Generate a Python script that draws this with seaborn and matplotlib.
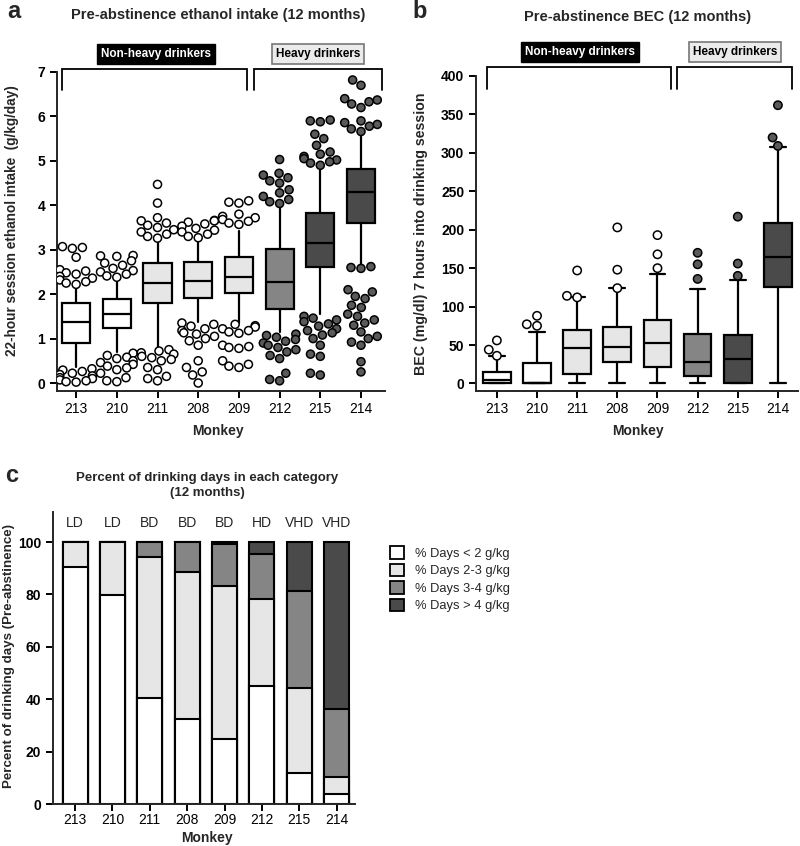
import warnings
import pandas as pd
import matplotlib.pyplot as plt
import seaborn as sns
from matplotlib.patches import Patch

warnings.filterwarnings('ignore')

# ---- data ----
monkeys = ['213', '210', '211', '208', '209', '212', '215', '214']
drinker_class = ['LD', 'LD', 'BD', 'BD', 'BD', 'HD', 'VHD', 'VHD']

# panel a: 22-hour session ethanol intake (g/kg/day), box summary
etoh_q1 = [0.89, 1.23, 1.79, 1.91, 2.02, 1.66, 2.60, 3.61]
etoh_med = [1.38, 1.55, 2.24, 2.30, 2.39, 2.28, 3.14, 4.29]
etoh_q3 = [1.79, 1.89, 2.69, 2.73, 2.84, 3.02, 3.82, 4.82]
etoh_lo = [0.35, 0.70, 0.80, 1.38, 1.35, 1.15, 1.55, 2.65]
etoh_hi = [2.17, 2.33, 3.20, 3.25, 3.42, 4.00, 4.87, 5.65]

# panel a: outlier days per monkey
out_213 = [3.07, 3.05, 3.03, 2.83, 2.55, 2.52, 2.48, 2.45, 2.4, 2.36, 2.32, 2.28, 2.25, 2.22,
           0.32, 0.29, 0.26, 0.22, 0.19, 0.16, 0.12, 0.1, 0.07, 0.05, 0.03, 0.02]
out_210 = [2.87, 2.86, 2.85, 2.75, 2.7, 2.65, 2.58, 2.53, 2.5, 2.45, 2.41, 2.38,
           0.67, 0.62, 0.58, 0.55, 0.5, 0.46, 0.42, 0.38, 0.34, 0.3, 0.22, 0.12, 0.05, 0.03]
out_211 = [4.47, 4.05, 3.72, 3.65, 3.6, 3.55, 3.5, 3.45, 3.4, 3.35, 3.3, 3.26,
           0.75, 0.72, 0.68, 0.65, 0.6, 0.57, 0.53, 0.5, 0.35, 0.3, 0.15, 0.1, 0.05]
out_208 = [3.66, 3.65, 3.62, 3.58, 3.53, 3.48, 3.44, 3.4, 3.35, 3.3, 3.27,
           1.35, 1.32, 1.28, 1.22, 1.18, 1.13, 1.1, 1.05, 1.0, 0.95, 0.85, 0.5, 0.35, 0.25, 0.18, 0.0]
out_209 = [4.1, 4.07, 4.05, 3.8, 3.75, 3.72, 3.68, 3.64, 3.6, 3.57,
           1.32, 1.29, 1.26, 1.22, 1.18, 1.15, 1.12, 0.85, 0.82, 0.8, 0.78, 0.5, 0.42, 0.38, 0.35]
out_212 = [5.03, 4.72, 4.68, 4.62, 4.55, 4.5, 4.35, 4.28, 4.2, 4.13, 4.08, 4.04,
           1.1, 1.07, 1.03, 0.98, 0.94, 0.9, 0.85, 0.8, 0.75, 0.7, 0.62, 0.55, 0.22, 0.08, 0.05]
out_215 = [5.92, 5.9, 5.88, 5.6, 5.5, 5.35, 5.2, 5.15, 5.1, 5.05, 5.02, 4.98, 4.95, 4.9,
           1.5, 1.46, 1.42, 1.38, 1.33, 1.28, 1.22, 1.18, 1.13, 1.08, 1.0, 0.85, 0.65, 0.6, 0.22, 0.18]
out_214 = [6.82, 6.7, 6.4, 6.37, 6.33, 6.28, 6.2, 5.9, 5.86, 5.82, 5.78, 5.72, 5.66,
           2.62, 2.6, 2.58, 2.1, 2.05, 1.95, 1.9, 1.75, 1.7, 1.55, 1.5, 1.42, 1.35, 1.3,
           1.15, 1.05, 1.0, 0.92, 0.85, 0.48, 0.25]

# panel b: BEC (mg/dl) 7 h into session, box summary
bec_q1 = [0, 0, 12, 28, 21, 10, 0, 126]
bec_med = [4, 0, 46, 47, 53, 28, 32, 164]
bec_q3 = [15, 26, 70, 74, 82, 64, 63, 209]
bec_lo = [0, 0, 0, 0, 0, 0, 0, 0]
bec_hi = [36, 67, 113, 124, 143, 123, 135, 307]
bec_out1 = [56, 88, 147, 203, 193, 170, 217, 362]
bec_out2 = [44, 77, 114, 148, 168, 155, 156, 320]
bec_out3 = [36, 75, 112, 124, 150, 136, 140, 309]

# panel c: percent of drinking days per category
pct_lt2 = [90.6, 79.8, 40.3, 32.4, 24.7, 45.0, 11.9, 3.8]
pct_2to3 = [9.4, 20.2, 54.1, 56.0, 58.6, 33.2, 32.5, 6.6]
pct_3to4 = [0.0, 0.0, 5.6, 11.6, 16.0, 17.1, 36.9, 25.7]
pct_gt4 = [0.0, 0.0, 0.0, 0.0, 0.7, 4.7, 18.7, 63.9]
cat_labels = ['% Days < 2 g/kg', '% Days 2-3 g/kg', '% Days 3-4 g/kg', '% Days > 4 g/kg']

# ---- style ----
sns.set_style('ticks')
plt.rcParams['font.family'] = ['Liberation Sans', 'DejaVu Sans']
plt.rcParams['axes.linewidth'] = 1.4

WHITE, LIGHT, MID, DARK = '#ffffff', '#e6e6e6', '#858585', '#4a4a4a'
box_face = [WHITE, WHITE, LIGHT, LIGHT, LIGHT, MID, DARK, DARK]
out_face = [WHITE] * 5 + ['#5a5a5a'] * 3

W, H = 800, 846
fig = plt.figure(figsize=(8, 8.46), dpi=100)


def fx(px):
    return px / W


def fy(py):
    return 1 - py / H


def add_axes(l, t, r, b):
    return fig.add_axes([fx(l), fy(b), fx(r) - fx(l), (b - t) / H])


def style_axes(ax, xpad=3.0):
    sns.despine(ax=ax)
    ax.tick_params(axis='both', direction='out', length=5, width=1.4, colors='black', labelsize=10)
    ax.tick_params(axis='x', pad=xpad)
    for lab in ax.get_yticklabels():
        lab.set_fontweight('bold')
    ax.set_xlabel('')
    ax.set_ylabel('')


def boxes(ax, q1, med, q3, lo, hi, caps):
    stats = [dict(q1=a, med=m, q3=b, whislo=l, whishi=h, fliers=[])
             for a, m, b, l, h in zip(q1, med, q3, lo, hi)]
    bp = ax.bxp(stats, positions=range(len(stats)), widths=0.69, patch_artist=True,
                showfliers=False, showcaps=caps, capwidths=0.39,
                boxprops=dict(linewidth=1.6, edgecolor='black'),
                medianprops=dict(color='black', linewidth=1.6),
                whiskerprops=dict(color='black', linewidth=1.6),
                capprops=dict(color='black', linewidth=1.6))
    for patch, c in zip(bp['boxes'], box_face):
        patch.set_facecolor(c)


def bracket(ax, x0, x1, ytop, ybot):
    ax.plot([x0, x0, x1, x1], [ybot, ytop, ytop, ybot], color='black', lw=1.3,
            clip_on=False, solid_joinstyle='miter')


def group_labels(x_non, x_heavy, y):
    fig.text(fx(x_non), fy(y), 'Non-heavy drinkers', color='white', fontsize=8.5,
             fontweight='bold', ha='center', va='center',
             bbox=dict(boxstyle='square,pad=0.3', facecolor='black', edgecolor='black'))
    fig.text(fx(x_heavy), fy(y), 'Heavy drinkers', color='black', fontsize=8.5,
             fontweight='bold', ha='center', va='center',
             bbox=dict(boxstyle='square,pad=0.3', facecolor='#ebebeb', edgecolor='#777777', lw=1.2))


# ---- panel a ----
ax_a = add_axes(57, 72, 385, 391)
boxes(ax_a, etoh_q1, etoh_med, etoh_q3, etoh_lo, etoh_hi, caps=False)
outs = [out_213, out_210, out_211, out_208, out_209, out_212, out_215, out_214]
df_a = pd.DataFrame({'monkey': [m for m, o in zip(monkeys, outs) for _ in o],
                     'value': [v for o in outs for v in o]})
sns.swarmplot(data=df_a, x='monkey', y='value', order=monkeys, hue='monkey',
              palette=dict(zip(monkeys, out_face)), size=5.8, edgecolor='black',
              linewidth=1.1, legend=False, ax=ax_a, zorder=4)
ax_a.set_xlim(-0.47, 7.59)
ax_a.set_ylim(-0.18, 7.0)
ax_a.set_yticks(range(8))
ax_a.set_xticks(range(8), monkeys)
style_axes(ax_a)
bracket(ax_a, -0.34, 4.2, 7.07, 6.6)
bracket(ax_a, 4.37, 7.52, 7.07, 6.6)
group_labels(156, 318, 54)
fig.text(fx(218), fy(15), 'Pre-abstinence ethanol intake (12 months)', fontsize=10.5,
         fontweight='bold', ha='center', va='center')
fig.text(fx(14), fy(12), 'a', fontsize=17, fontweight='bold', ha='center', va='center')
fig.text(fx(12), fy(221), '22-hour session ethanol intake  (g/kg/day)', fontsize=9.8,
         fontweight='bold', rotation=90, ha='center', va='center')
fig.text(fx(218), fy(431), 'Monkey', fontsize=10, fontweight='bold', ha='center', va='center')

# ---- panel b ----
ax_b = add_axes(476, 76, 798, 391)
boxes(ax_b, bec_q1, bec_med, bec_q3, bec_lo, bec_hi, caps=True)
df_b = pd.DataFrame({'monkey': monkeys * 3, 'value': bec_out1 + bec_out2 + bec_out3})
sns.swarmplot(data=df_b, x='monkey', y='value', order=monkeys, hue='monkey',
              palette=dict(zip(monkeys, out_face)), size=6, edgecolor='black',
              linewidth=1.1, legend=False, ax=ax_b, zorder=4)
ax_b.set_xlim(-0.52, 7.5)
ax_b.set_ylim(-9.8, 400)
ax_b.set_yticks(range(0, 401, 50))
ax_b.set_xticks(range(8), monkeys)
style_axes(ax_b)
bracket(ax_b, -0.25, 4.33, 412, 383)
bracket(ax_b, 4.48, 7.35, 412, 383)
group_labels(580, 735, 52)
fig.text(fx(638), fy(17), 'Pre-abstinence BEC (12 months)', fontsize=10.5,
         fontweight='bold', ha='center', va='center')
fig.text(fx(420), fy(12), 'b', fontsize=17, fontweight='bold', ha='center', va='center')
fig.text(fx(421), fy(234), 'BEC (mg/dl) 7 hours into drinking session', fontsize=10.2,
         fontweight='bold', rotation=90, ha='center', va='center')
fig.text(fx(638), fy(431), 'Monkey', fontsize=10, fontweight='bold', ha='center', va='center')

# ---- panel c ----
ax_c = add_axes(53, 512, 355, 804)
cum1 = pct_lt2
cum2 = [a + b for a, b in zip(cum1, pct_2to3)]
cum3 = [a + b for a, b in zip(cum2, pct_3to4)]
cum4 = [a + b for a, b in zip(cum3, pct_gt4)]
for cum, col in [(cum4, DARK), (cum3, MID), (cum2, LIGHT), (cum1, WHITE)]:
    sns.barplot(x=monkeys, y=cum, order=monkeys, color=col, saturation=1, width=0.67,
                edgecolor='black', linewidth=1.5, errorbar=None, ax=ax_c)
ax_c.set_xlim(-0.59, 7.49)
ax_c.set_ylim(0, 111.5)
ax_c.set_yticks(range(0, 101, 20))
style_axes(ax_c, xpad=1.5)
for i, lab in enumerate(drinker_class):
    ax_c.text(i, 107.4, lab, fontsize=10, ha='center', va='center', clip_on=False)
fig.text(fx(207), fy(478), 'Percent of drinking days in each category', fontsize=9.5,
         fontweight='bold', ha='center', va='center')
fig.text(fx(207), fy(493), '(12 months)', fontsize=9.5, fontweight='bold', ha='center', va='center')
fig.text(fx(12), fy(475), 'c', fontsize=17, fontweight='bold', ha='center', va='center')
fig.text(fx(9), fy(656), 'Percent of drinking days (Pre-abstinence)', fontsize=9.6,
         fontweight='bold', rotation=90, ha='center', va='center')
fig.text(fx(207), fy(838), 'Monkey', fontsize=10, fontweight='bold', ha='center', va='center')

handles = [Patch(facecolor=c, edgecolor='black', linewidth=1.3) for c in [WHITE, LIGHT, MID, DARK]]
fig.legend(handles, cat_labels, loc='upper left', bbox_to_anchor=(fx(385), fy(541)),
           frameon=False, fontsize=9.3, handlelength=1.1, handleheight=1.1,
           labelspacing=0.3, handletextpad=0.8, borderaxespad=0)

fig.savefig('out.png', dpi=100)
